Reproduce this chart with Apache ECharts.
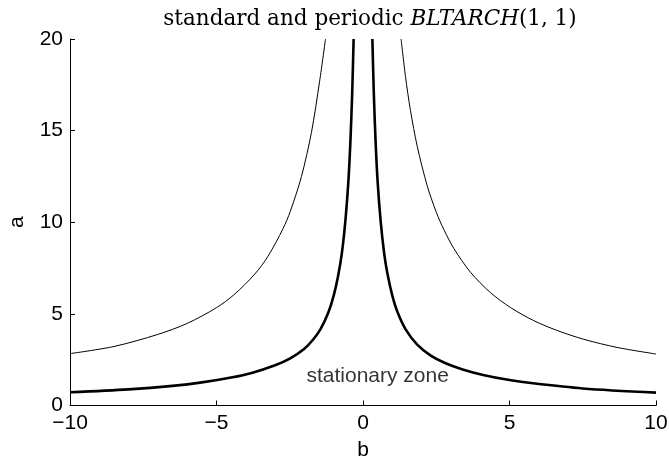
<!DOCTYPE html>
<html>
<head>
<meta charset="utf-8">
<script src="https://cdn.jsdelivr.net/npm/echarts@6/dist/echarts.min.js"></script>
<style>
  html, body { margin: 0; padding: 0; background: #fff; }
  #chart { width: 669px; height: 463px; }
</style>
</head>
<body>
<div id="chart"></div>
<script>
// values: b on the x axis, a on the y axis
var thinLeftB  = [-10, -8.5, -7, -6, -5, -4.4, -3.7, -3.24, -2.73, -2.48, -2.1, -1.76, -1.48, -1.28];
var thinLeftA  = [2.83, 3.22, 3.88, 4.48, 5.34, 6.05, 7.16, 8.15, 9.65, 10.6, 12.5, 14.9, 17.7, 20];
var thinRightB = [1.3, 1.45, 1.62, 1.85, 2.19, 2.5, 2.76, 3.1, 3.67, 4.35, 5.04, 5.83, 6.6, 7.54, 8.7, 10];
var thinRightA = [20, 17.95, 16.1, 14.15, 12.0, 10.55, 9.6, 8.57, 7.27, 6.16, 5.34, 4.63, 4.11, 3.61, 3.16, 2.81];

var thickLeftB  = [-10, -8, -6.5, -5.5, -4.5, -3.8, -3.0, -2.5, -2.0, -1.7, -1.45, -1.19, -1.0, -0.85, -0.72, -0.6, -0.5, -0.43, -0.37, -0.32];
var thickLeftA  = [0.72, 0.88, 1.07, 1.26, 1.53, 1.78, 2.2, 2.56, 3.1, 3.6, 4.17, 5.05, 6.0, 7.07, 8.33, 10.1, 12.2, 14.4, 17.0, 20];
var thickRightB = [0.32, 0.37, 0.43, 0.5, 0.6, 0.72, 0.83, 1.0, 1.17, 1.45, 1.85, 2.3, 2.8, 3.4, 4.1, 5.0, 5.8, 7.5, 10];
var thickRightA = [20, 17.0, 14.4, 12.2, 10.1, 8.33, 7.23, 6.0, 5.13, 4.17, 3.32, 2.74, 2.32, 1.97, 1.67, 1.39, 1.21, 0.93, 0.7];

var zoneText = 'stationary zone';
var zoneAt = [0.5, 1.62];

function pairs(xs, ys) {
    return xs.map(function (x, i) { return [x, ys[i]]; });
}

var sans = 'Liberation Sans, Arial, sans-serif';
var serif = 'DejaVu Serif, serif';

function curve(xs, ys, width) {
    return {
        type: 'line',
        data: pairs(xs, ys),
        smooth: 0.3,
        symbol: 'none',
        clip: true,
        lineStyle: { color: '#000', width: width },
        silent: true
    };
}

var chart = echarts.init(document.getElementById('chart'));
chart.setOption({
    animation: false,
    title: {
        text: 'standard and periodic {i|BLTARCH}(1, 1)',
        left: 365,
        textAlign: 'center',
        top: 3,
        textStyle: {
            fontFamily: serif,
            fontWeight: 'normal',
            fontSize: 21.5,
            color: '#000',
            rich: {
                i: { fontFamily: serif, fontStyle: 'italic', fontSize: 21.5, color: '#000' }
            }
        }
    },
    grid: { left: 70, right: 13, top: 39, bottom: 57.5, outerBoundsMode: 'none' },
    xAxis: {
        type: 'value',
        min: -10, max: 10, interval: 5,
        name: 'b',
        nameLocation: 'middle',
        nameGap: 34,
        nameTextStyle: { fontFamily: sans, fontSize: 21, color: '#000' },
        axisLine: { onZero: false, lineStyle: { color: '#000', width: 1 } },
        axisTick: { inside: true, length: 5, lineStyle: { color: '#000' } },
        axisLabel: {
            fontFamily: sans, fontSize: 21, color: '#000', margin: 7,
            formatter: function (v) { return String(v).replace('-', '\u2212'); }
        },
        splitLine: { show: false }
    },
    yAxis: {
        type: 'value',
        min: 0, max: 20, interval: 5,
        name: 'a',
        nameLocation: 'middle',
        nameGap: 42,
        nameTextStyle: { fontFamily: sans, fontSize: 21, color: '#000' },
        axisLine: { show: true, onZero: false, lineStyle: { color: '#000', width: 1 } },
        axisTick: { show: true, inside: true, length: 5, lineStyle: { color: '#000' } },
        axisLabel: { fontFamily: sans, fontSize: 21, color: '#000', margin: 7 },
        splitLine: { show: false }
    },
    series: [
        curve(thinLeftB, thinLeftA, 1),
        curve(thinRightB, thinRightA, 1),
        curve(thickLeftB, thickLeftA, 2.6),
        curve(thickRightB, thickRightA, 2.6),
        {
            type: 'scatter',
            data: [zoneAt],
            symbolSize: 0,
            silent: true,
            itemStyle: { color: '#000' },
            label: {
                show: true,
                position: 'inside',
                formatter: zoneText,
                fontFamily: sans,
                fontSize: 21,
                color: '#000',
                textBorderWidth: 0
            }
        }
    ]
});
</script>
</body>
</html>
